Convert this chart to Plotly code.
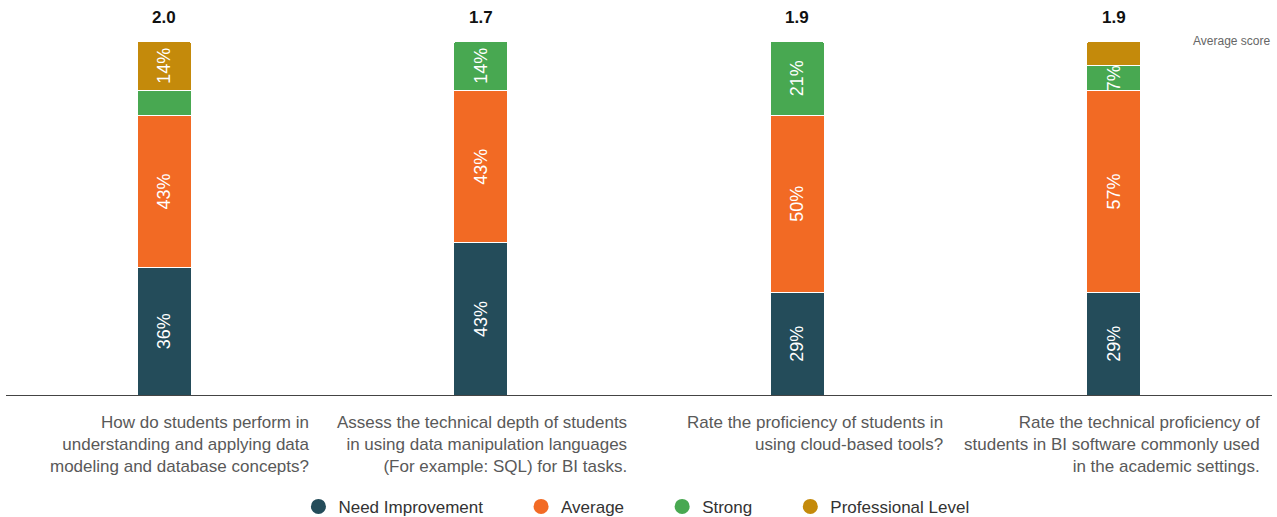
import plotly.graph_objects as go

# Survey questions (x categories) and their wrapped label text
questions = ["Q1", "Q2", "Q3", "Q4"]
question_labels = [
    "How do students perform in<br>understanding and applying data<br>modeling and database concepts?",
    "Assess the technical depth of students<br>in using data manipulation languages<br>(For example: SQL) for BI tasks.",
    "Rate the proficiency of students in<br>using cloud-based tools?",
    "Rate the technical proficiency of<br>students in BI software commonly used<br>in the academic settings.",
]

# Share of responses per rating level (%)
need_improvement = [36, 43, 29, 29]
average = [43, 43, 50, 57]
strong = [7, 14, 21, 7]
professional = [14, 0, 0, 7]

# Which segment values carry a printed label
show_need = [True, True, True, True]
show_avg = [True, True, True, True]
show_strong = [False, True, True, True]
show_prof = [True, False, False, False]

average_scores = [2.0, 1.7, 1.9, 1.9]

series = [
    ("Need Improvement", need_improvement, show_need, "#244C5A"),
    ("Average", average, show_avg, "#F26A24"),
    ("Strong", strong, show_strong, "#48A851"),
    ("Professional Level", professional, show_prof, "#C48A0B"),
]

FONT = "Liberation Sans, Arial, Helvetica, sans-serif"
PAD = "\u00a0" * 7

fig = go.Figure()
for name, vals, shows, color in series:
    fig.add_trace(go.Bar(
        x=questions, y=vals, name=name, showlegend=False,
        marker=dict(color=color, line=dict(color="white", width=1)),
        text=[f"{v}%" if s and v else "" for v, s in zip(vals, shows)],
        textposition="inside", insidetextanchor="middle", textangle=-90,
        constraintext="none", cliponaxis=False,
        textfont=dict(color="white", size=18, family=FONT),
        width=0.17, hoverinfo="skip",
    ))

# Legend entries with round markers
for name, vals, shows, color in series:
    fig.add_trace(go.Scatter(
        x=[None], y=[None], mode="markers", name=name + PAD,
        marker=dict(color=color, size=15, symbol="circle"),
    ))

annotations = []
for q, s in zip(questions, average_scores):
    annotations.append(dict(
        x=q, y=100, xref="x", yref="y", text=f"<b>{s:.1f}</b>",
        showarrow=False, yanchor="bottom", yshift=12,
        font=dict(size=17, color="#111111", family=FONT),
    ))
for q, lab in zip(questions, question_labels):
    annotations.append(dict(
        x=q, y=0, xref="x", yref="y", text=lab, showarrow=False,
        xanchor="right", yanchor="top", align="right",
        xshift=148, yshift=-16,
        font=dict(size=17, color="#595959", family=FONT),
    ))
annotations.append(dict(
    x=1, y=1, xref="paper", yref="paper", text="Average score",
    showarrow=False, xanchor="right", yanchor="middle",
    font=dict(size=12, color="#666666", family=FONT),
))

fig.update_layout(
    width=1277, height=517,
    margin=dict(l=6, r=5, t=41, b=122, autoexpand=False),
    barmode="stack", barcornerradius=3,
    plot_bgcolor="white", paper_bgcolor="white",
    font=dict(family=FONT),
    xaxis=dict(showticklabels=False, showgrid=False, showline=True,
               linecolor="#444444", linewidth=1, ticks="",
               range=[-0.5, 3.5], fixedrange=True),
    yaxis=dict(range=[0, 100], visible=False, showgrid=False, fixedrange=True),
    legend=dict(orientation="h", x=0.511, xanchor="center", y=-0.316,
                yanchor="middle", traceorder="normal",
                font=dict(size=17, color="#333333", family=FONT),
                itemsizing="trace"),
    annotations=annotations,
)

fig.write_html("out.html", config={"displayModeBar": False})
